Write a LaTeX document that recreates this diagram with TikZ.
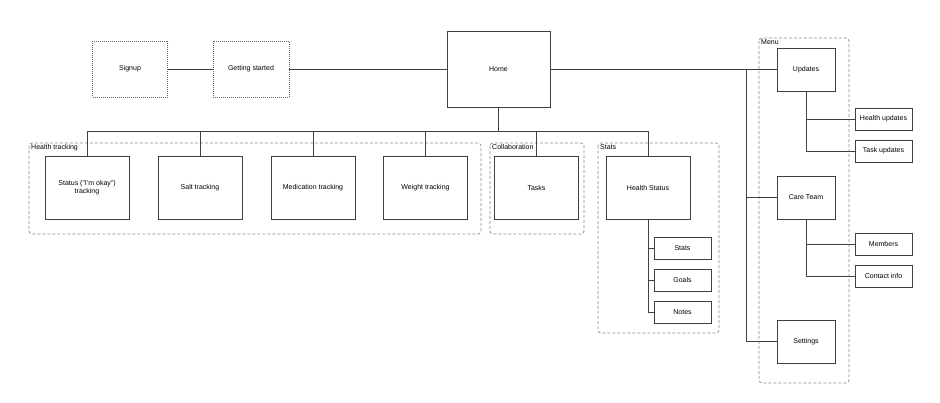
\documentclass[tikz,border=0pt]{standalone}
\usepackage{fontspec}
\setmainfont{Liberation Sans}
\begin{document}
\begin{tikzpicture}[x=1pt,y=-1pt,
  every node/.style={font=\fontsize{7}{8.4}\selectfont, text=black},
  box/.style={draw=black!75, line width=0.9pt, fill=white, inner sep=1pt, align=center},
  dotbox/.style={box, draw=black!60, dash pattern=on 1pt off 1pt},
  bigbox/.style={box, minimum width=84pt, minimum height=63pt},
  midbox/.style={box, minimum width=58pt, minimum height=43pt},
  smallbox/.style={box, minimum width=57pt, minimum height=22pt},
  grp/.style={draw=black!45, line width=0.7pt, dash pattern=on 3pt off 2pt, rounded corners=3pt},
  glabel/.style={anchor=north west, inner sep=1.5pt},
  conn/.style={draw=black!75, line width=0.9pt}]
\useasboundingbox (0,0) rectangle (940,403);

% groups
\draw[grp] (29,143) rectangle (481,234);
\node[glabel] (lht) at (29.5,142.5) {Health tracking};
\draw[grp] (490,143) rectangle (584,234);
\node[glabel] (lcol) at (490.5,142.5) {Collaboration};
\draw[grp] (598,143) rectangle (719,333);
\node[glabel] (lst) at (598.5,142.5) {Stats};
\draw[grp] (759,38) rectangle (849,383);
\node[glabel] (lmenu) at (759.5,37.5) {Menu};

% top row
\node[dotbox, minimum width=75pt, minimum height=56pt] (signup) at (130,69) {Signup};
\node[dotbox, minimum width=76pt, minimum height=56pt] (start) at (251,69) {Getting started};
\node[box, minimum width=103pt, minimum height=76pt] (home) at (498.5,69) {Home};

% second row
\node[bigbox] (status) at (87,187.5) {Status ("I'm okay")\\tracking};
\node[bigbox] (salt) at (200,187.5) {Salt tracking};
\node[bigbox] (med) at (313,187.5) {Medication tracking};
\node[bigbox] (weight) at (425.5,187.5) {Weight tracking};
\node[bigbox] (tasks) at (536.5,187.5) {Tasks};
\node[bigbox] (hs) at (648,187.5) {Health Status};

\node[smallbox] (stats) at (682.5,248) {Stats};
\node[smallbox] (goals) at (682.5,280) {Goals};
\node[smallbox] (notes) at (682.5,312) {Notes};

% menu
\node[midbox] (updates) at (806,69.5) {Updates};
\node[midbox] (care) at (806,197.5) {Care Team};
\node[midbox] (settings) at (806,341.5) {Settings};
\node[smallbox] (hupd) at (883.5,119) {Health updates};
\node[smallbox] (tupd) at (883.5,151) {Task updates};
\node[smallbox] (members) at (883.5,244) {Members};
\node[smallbox] (contact) at (883.5,276) {Contact info};

% connectors
\draw[conn] (signup) -- (start);
\draw[conn] (start) -- (home);
\coordinate (mbus) at (746,69);
\draw[conn] (home.east) -- (mbus);
\draw[conn] (updates.west) -| (mbus);
\draw[conn] (care.west) -| (mbus);
\draw[conn] (settings.west) -| (mbus);

\coordinate (bus) at (498.5,131);
\draw[conn] (home.south) -- (bus);
\foreach \n in {status,salt,med,weight,tasks,hs}
  \draw[conn] (\n.north) |- (bus);

\foreach \n in {stats,goals,notes}
  \draw[conn] (hs.south) |- (\n.west);
\foreach \n in {hupd,tupd}
  \draw[conn] (updates.south) |- (\n.west);
\foreach \n in {members,contact}
  \draw[conn] (care.south) |- (\n.west);
\end{tikzpicture}
\end{document}
